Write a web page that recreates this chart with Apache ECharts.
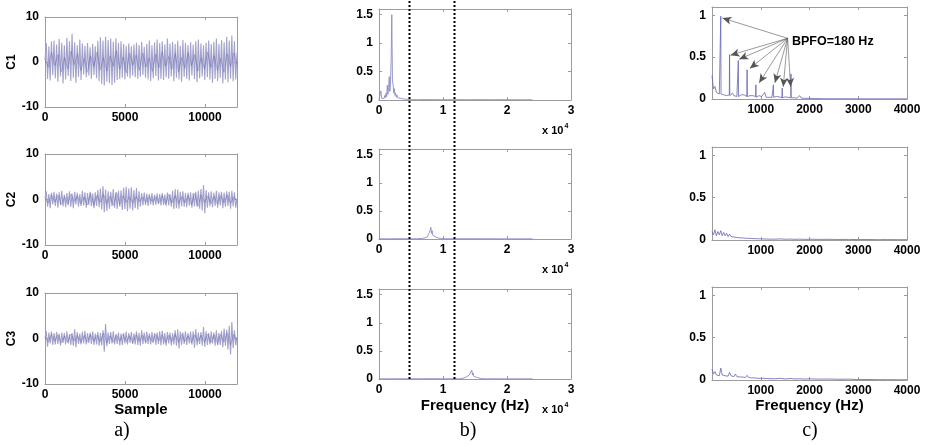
<!DOCTYPE html>
<html><head><meta charset="utf-8">
<script src="https://cdn.jsdelivr.net/npm/echarts/dist/echarts.min.js"></script>
<style>html,body{margin:0;padding:0;background:#fff}#c{width:927px;height:447px}</style>
</head><body><div id="c"></div>
<script>
// ---------- DATA ----------
const sampleMax = 12000;
const sigC1 = [0.5, 4.2, -3.8, 3.5, -4.1, 4.6, -2.9, 4.8, -3.6, 3.9,
 -4.4, 5.1, -3.2, 4.3, -4.8, 3.7, -3.9, 5.4, -3.1, 4.6,
 -4.2, 6.3, -3.5, 4.4, -4.6, 3.8, -3.3, 5.0, -4.0, 4.1,
 -2.8, 3.6, -3.4, 4.2, -3.0, 3.3, -3.7, 4.0, -2.9, 3.5,
 -3.6, 4.7, -4.3, 5.5, -4.9, 4.8, -5.2, 5.6, -4.4, 4.9,
 -4.7, 5.2, -5.1, 4.5, -4.6, 5.3, -4.0, 4.2, -3.8, 4.6,
 -3.5, 4.0, -3.9, 3.6, -3.2, 4.1, -3.6, 3.5, -3.0, 3.9,
 -3.4, 4.3, -3.7, 3.8, -3.3, 4.5, -2.9, 3.4, -3.5, 4.0,
 -3.9, 4.8, -4.2, 3.7, -3.6, 4.4, -3.1, 5.0, -4.1, 4.2,
 -3.8, 4.6, -4.0, 3.9, -3.4, 5.2, -3.7, 4.1, -3.2, 4.5,
 -4.3, 4.0, -3.5, 4.7, -3.9, 3.6, -4.4, 4.9, -3.3, 4.2,
 -3.7, 3.8, -4.1, 4.4, -3.0, 3.9, -3.8, 4.6, -4.5, 5.0,
 -3.6, 4.1, -3.2, 3.7, -4.0, 4.3, -3.4, 4.8, -3.9, 4.0,
 -4.6, 4.5, -3.8, 5.2, -4.2, 4.0, -3.5, 4.9, -4.8, 4.4,
 -3.9, 5.6, -4.5, 4.8, -3.7, 5.9, -4.3, 4.6, -3.9, 2.1];
const sigC2 = [0.3, 1.8, -1.6, 1.2, -1.9, 1.5, -1.1, 1.7, -1.4, 1.3,
 -1.8, 1.6, -1.2, 1.9, -1.5, 1.1, -1.7, 1.4, -1.3, 1.8,
 -1.6, 1.3, -1.9, 1.7, -1.1, 1.5, -1.6, 1.2, -1.4, 1.9,
 -1.3, 1.6, -1.8, 1.4, -1.2, 1.7, -1.5, 1.3, -1.9, 1.6,
 -1.4, 2.1, -1.7, 2.4, -2.2, 2.9, -2.8, 2.2, -2.5, 1.8,
 -2.0, 1.7, -1.5, 2.3, -1.8, 1.6, -2.1, 1.9, -1.6, 2.0,
 -2.3, 2.6, -2.1, 2.8, -2.6, 2.4, -2.0, 2.7, -2.4, 2.1,
 -1.9, 2.5, -2.2, 1.8, -1.6, 1.4, -1.3, 1.5, -1.2, 1.3,
 -1.4, 1.2, -1.1, 1.4, -1.3, 1.1, -1.2, 1.3, -1.0, 1.2,
 -1.3, 1.4, -1.2, 1.1, -1.4, 1.5, -1.3, 1.2, -1.6, 1.9,
 -2.1, 2.3, -1.9, 2.2, -2.0, 1.7, -1.5, 1.8, -1.6, 1.4,
 -1.7, 1.5, -1.3, 1.6, -1.8, 1.4, -1.5, 1.7, -1.6, 1.9,
 -2.0, 2.3, -2.4, 3.2, -3.0, 2.1, -1.8, 1.6, -1.5, 1.8,
 -1.7, 1.5, -1.4, 1.9, -1.8, 1.6, -1.3, 1.7, -1.9, 1.5,
 -1.6, 1.8, -1.4, 1.7, -2.0, 1.9, -1.5, 1.6, -1.8, 0.2];
const sigC3 = [0.2, 1.6, -1.8, 1.3, -1.1, 1.5, -1.4, 1.2, -1.3, 1.4,
 -1.2, 1.1, -1.5, 1.3, -1.0, 1.2, -1.3, 1.6, -1.1, 1.0,
 -1.4, 1.2, -1.6, 2.0, -1.9, 1.4, -1.2, 1.1, -1.3, 1.5,
 -1.1, 1.7, -1.3, 1.2, -1.0, 1.3, -1.2, 1.5, -1.4, 1.1,
 -1.3, 1.4, -1.6, 1.2, -1.5, 1.8, -2.9, 3.2, -1.7, 1.3,
 -1.2, 1.4, -1.1, 1.6, -1.3, 1.0, -1.2, 1.3, -1.5, 1.1,
 -1.4, 1.2, -1.1, 1.5, -1.3, 1.2, -1.0, 1.4, -1.2, 1.1,
 -1.3, 1.6, -1.4, 1.2, -1.6, 1.8, -1.2, 1.3, -1.1, 1.5,
 -1.2, 1.1, -1.3, 1.4, -1.0, 1.2, -1.4, 1.3, -1.2, 1.6,
 -1.5, 1.7, -1.3, 1.2, -1.6, 1.4, -1.1, 1.3, -1.5, 1.2,
 -1.3, 1.8, -1.6, 2.0, -2.2, 1.5, -1.4, 1.3, -1.2, 1.6,
 -1.4, 1.2, -1.1, 1.5, -1.3, 1.6, -2.0, 2.1, -1.5, 1.3,
 -1.2, 1.4, -1.6, 2.5, -1.8, 1.6, -1.4, 1.2, -1.3, 1.5,
 -1.1, 1.3, -1.6, 1.8, -1.5, 1.2, -1.4, 1.7, -1.9, 2.2,
 -1.6, 1.9, -2.4, 2.8, -3.5, 3.6, -2.1, 1.8, -1.5, 0.3];
// darker inner trace of the raw signals
const innerC1 = [0.5,-1.2,2.1,-0.8,1.6,-2.2,1.0,-1.5,2.4,-0.6, 1.8,-1.9,0.7,-2.3,1.4,-1.0,2.2,-1.7,0.9,-2.0,
 1.3,-0.9,2.5,-1.6,1.1,-2.4,1.9,-0.7,1.5,-1.8, 2.0,-1.1,0.8,-2.1,1.7,-1.3,2.3,-0.9,1.2,-1.6,
 1.9,-2.2,1.0,-1.4,2.1,-0.8,1.6,-2.0,0.9,-1.5, 2.2,-1.2,1.4,-1.9,0.8,-2.3,1.8,-1.0,2.0,-0.5];
const innerC2 = [0.2,-0.8,1.0,-0.5,0.9,-1.1,0.6,-0.9,1.2,-0.4, 0.8,-1.0,0.5,-1.2,1.4,-1.3,0.9,-0.6,1.1,-0.8,
 0.7,-1.3,1.5,-1.1,0.8,-0.6,0.5,-0.7,0.6,-0.4, 0.5,-0.6,0.7,-0.5,0.6,-0.8,0.9,-1.0,1.1,-0.7,
 0.8,-0.9,0.6,-0.7,0.9,-1.2,1.3,-1.5,1.0,-0.6, 0.8,-0.9,0.7,-1.0,0.9,-0.7,1.0,-0.8,0.6,-0.3];
const innerC3 = [0.3,-0.7,0.9,-0.6,0.8,-0.9,0.5,-0.8,1.0,-0.5, 0.7,-0.9,0.6,-0.8,0.9,-0.6,0.8,-0.7,1.2,-1.0,
 0.6,-0.8,0.7,-0.5,0.9,-0.7,0.6,-0.9,0.8,-0.6, 0.7,-0.8,0.6,-0.7,0.9,-0.5,0.8,-0.9,0.7,-0.6,
 0.9,-0.8,1.0,-0.7,0.6,-0.9,0.8,-0.6,0.7,-0.8, 1.0,-0.9,0.8,-1.1,0.9,-0.7,1.2,-1.4,0.9,-0.4];

// b) spectra (Hz, amplitude)
const fftFreqC1 = [0,100,200,300,400,500,600,700,800,900,1000,1100,1200,1300,1400,1500,1600,1700,1800,1900,
 2000,2100,2200,2300,2400,2500,2600,2700,2800,2900,3000,3100,3200,3300,3400,3500,3600,3700,3800,3900,
 4000,4100,4200,4300,4400,4500,4600,4700,4800,4900,5000,6000,8000,10000,12000,14000,16000,18000,20000,22000,24000];
const fftAmpC1 = [0.01,0.03,0.02,0.16,0.03,0.05,0.02,0.06,0.03,0.08,
 0.04,0.12,0.06,0.26,0.1,0.22,0.41,0.15,0.3,0.73,
 1.5,0.35,0.27,0.12,0.2,0.08,0.12,0.05,0.09,0.04,
 0.07,0.03,0.06,0.03,0.05,0.02,0.04,0.02,0.03,0.02,
 0.025,0.015,0.02,0.01,0.015,0.01,0.012,0.008,0.01,0.006,0.008,
 0.006,0.007,0.005,0.006,0.005,0.006,0.005,0.006,0.004,0.004];
const fftFreqC2 = [0,1000,2000,3000,4000,5000,
 6000,6100,6200,6300,6400,6500,6600,6700,6800,6900,7000,7100,7200,7300,7400,7500,7600,7700,7800,7900,
 8000,8100,8200,8300,8400,8500,8600,8700,8800,8900,9000,9100,9200,9300,9400,9500,9600,9700,9800,9900,
 10000,10100,10200,10300,10400,10500,10600,11000,12000,14000,16000,18000,20000,22000,24000];
const fftAmpC2 = [0.003,0.004,0.004,0.005,0.004,0.004,
 0.005,0.008,0.006,0.01,0.008,0.015,0.01,0.02,0.012,0.025,
 0.015,0.03,0.02,0.04,0.03,0.05,0.04,0.08,0.06,0.12,
 0.09,0.21,0.1,0.15,0.07,0.1,0.05,0.07,0.04,0.05,
 0.03,0.04,0.02,0.03,0.015,0.02,0.012,0.015,0.01,0.012,
 0.008,0.01,0.006,0.008,0.005,0.006,0.004,
 0.005,0.004,0.005,0.004,0.004,0.003,0.003,0.003];
const fftFreqC3 = [0,2000,4000,6000,8000,10000,11000,12000,
 12400,12500,12600,12700,12800,12900,13000,13100,13200,13300,13400,13500,13600,13700,13800,13900,
 14000,14100,14200,14300,14400,14500,14600,14700,14800,14900,15000,15100,15200,15300,15400,15500,
 15600,15700,15800,15900,16000,16100,16200,16300,16400,16500,16600,17000,18000,20000,22000,24000];
const fftAmpC3 = [0.003,0.004,0.004,0.004,0.005,0.004,0.004,0.004,
 0.004,0.006,0.005,0.008,0.006,0.01,0.008,0.015,0.01,0.02,
 0.015,0.03,0.02,0.04,0.03,0.06,0.04,0.07,0.05,0.1,
 0.08,0.16,0.07,0.11,0.05,0.08,0.04,0.06,0.03,0.05,
 0.025,0.035,0.02,0.025,0.012,0.015,0.008,0.01,0.006,0.007,
 0.004,0.005,0.003,
 0.004,0.004,0.003,0.003,0.003];

// c) envelope spectra
const envFreqC1 = [0,30,60,90,120,150,175,180,185,210,240,270,300,330,355,360,365,390,420,450,480,510,
 535,540,545,570,600,630,660,690,715,720,725,750,780,810,840,870,895,900,905,930,960,990,1020,1050,
 1080,1110,1140,1170,1200,1230,1255,1260,1265,1290,1320,1350,1380,1410,1435,1440,1445,1470,1500,1530,
 1560,1590,1615,1620,1625,1650,1680,1710,1740,1770,1800,1830,1860,1890,1920,1950,1980,2010,2040,2070,
 2100,2130,2160,2190,2220,2250,2280,2310,2340,2370,2400,2600,2800,3000,3200,3400,3600,3800,4000];
const envAmpC1 = [0.28,0.12,0.15,0.08,0.1,0.06,0.07,0.99,0.06,0.08,0.05,0.07,0.04,0.06,0.05,0.53,0.04,0.05,0.07,0.04,0.06,0.03,
 0.04,0.46,0.03,0.04,0.05,0.03,0.05,0.03,0.03,0.35,0.03,0.03,0.04,0.02,0.04,0.03,0.03,0.17,0.02,0.03,0.04,0.02,0.03,0.02,
 0.08,0.02,0.03,0.02,0.03,0.02,0.02,0.17,0.02,0.02,0.03,0.02,0.025,0.015,0.015,0.13,0.015,0.02,0.025,0.015,
 0.02,0.015,0.015,0.3,0.015,0.02,0.015,0.02,0.01,0.015,0.04,0.01,0.015,0.008,0.012,0.008,0.02,0.008,0.01,0.006,
 0.01,0.005,0.008,0.005,0.007,0.004,0.006,0.004,0.005,0.003,0.004,0.003,0.003,0.002,0.002,0.002,0.002,0.002,0.002];
const envFreqC23 = [0,30,60,90,120,150,180,210,240,270,300,330,360,390,420,450,480,510,540,570,
 600,630,660,690,720,750,780,810,840,870,900,930,960,990,1020,1050,1080,1110,1140,1170,1200,
 1300,1400,1500,1600,1700,1800,1900,2000,2200,2400,2600,2800,3000,3200,3400,3600,3800,4000];
const envAmpC2 = [0.1,0.06,0.12,0.05,0.1,0.06,0.11,0.05,0.09,0.05,
 0.08,0.04,0.07,0.04,0.06,0.035,0.05,0.03,0.045,0.025,
 0.04,0.025,0.035,0.02,0.03,0.02,0.028,0.018,0.025,0.016,
 0.022,0.015,0.02,0.014,0.018,0.012,0.017,0.012,0.015,0.01,0.014,
 0.01,0.013,0.009,0.011,0.008,0.01,0.007,0.009,0.007,0.008,0.006,0.007,0.005,0.006,0.004,0.005,0.004,0.004];
const envAmpC3 = [0.13,0.07,0.1,0.06,0.08,0.05,0.14,0.06,0.07,0.05,
 0.06,0.045,0.09,0.05,0.06,0.04,0.07,0.04,0.06,0.035,
 0.055,0.035,0.05,0.03,0.055,0.03,0.045,0.025,0.04,0.025,
 0.035,0.02,0.03,0.02,0.03,0.02,0.03,0.018,0.025,0.016,0.022,
 0.015,0.02,0.012,0.018,0.012,0.015,0.01,0.014,0.01,0.012,0.008,0.01,0.006,0.006,0.004,0.004,0.003,0.003];

// annotation: BPFO arrows (data coords of panel c1)
const bpfoFrom = [1551, 0.726];
const bpfoTargets = [[214,0.967],[379,0.524],[556,0.475],[776,0.366],[967,0.193],[1290,0.193],[1461,0.145],[1613,0.145]];
const bandEdges = [4700, 11700];
const rowNames = ['C1','C2','C3'];

// ---------- CHART ----------
const FONT = '"Liberation Sans", Arial, Helvetica, sans-serif';
const boxColor = '#9c9c9c';
const lineColor = '#7474b8';
const grids = [
  {left:45, top:17, width:192, height:90}, {left:45, top:154, width:192, height:91}, {left:45, top:293, width:192, height:91},
  {left:379, top:9, width:192, height:91}, {left:379, top:149, width:192, height:90}, {left:379, top:289, width:192, height:90},
  {left:712, top:7, width:195, height:92}, {left:712, top:147, width:195, height:93}, {left:712, top:287, width:195, height:93}
];
const labelStyle = {fontFamily:FONT, fontWeight:'bold', fontSize:12, color:'#000'};
const nameStyle = {fontFamily:FONT, fontWeight:'bold', fontSize:15, color:'#000'};
function baseAxis(gi, min, max, interval){
  return {type:'value', gridIndex:gi, min:min, max:max, interval:interval, splitLine:{show:false},
    axisLine:{show:true, onZero:false, lineStyle:{color:boxColor, width:1}},
    axisTick:{show:true, inside:true, length:3, lineStyle:{color:boxColor}}};
}
const xAxes = [], yAxes = [];
function addAxes(gi, x, y){
  const xb = Object.assign(baseAxis(gi, x.min, x.max, x.interval), {position:'bottom',
    axisLabel:Object.assign({show:true, margin:5, formatter:x.fmt || (v=>String(v)), showMinLabel:x.hideMin?false:null, showMaxLabel:x.hideMax?false:null}, labelStyle)});
  if (x.name) Object.assign(xb, {name:x.name, nameLocation:'middle', nameGap:x.nameGap, nameTextStyle:nameStyle});
  xAxes.push(xb);
  xAxes.push(Object.assign(baseAxis(gi, x.min, x.max, x.interval), {position:'top', axisLabel:{show:false}}));
  const yl = Object.assign(baseAxis(gi, y.min, y.max, y.interval), {position:'left',
    axisLabel:Object.assign({show:true, margin:6, formatter:v=>String(v), showMaxLabel:y.hideMax?false:null}, labelStyle)});
  if (y.name) Object.assign(yl, {name:y.name, nameLocation:'middle', nameGap:y.nameGap, nameRotate:90, nameTextStyle:Object.assign({}, labelStyle)});
  yAxes.push(yl);
  yAxes.push(Object.assign(baseAxis(gi, y.min, y.max, y.interval), {position:'right', axisLabel:{show:false}}));
}
const series = [];
function zipIdx(arr){ return arr.map((v,i)=>[i*sampleMax/(arr.length-1), v]); }
function zip(f, a){ return f.map((v,i)=>[v, a[i]]); }
function addSeries(gi, data, extra){
  series.push(Object.assign({type:'line', xAxisIndex:2*gi, yAxisIndex:2*gi, data:data, showSymbol:false, symbol:'none',
    lineStyle:{color:lineColor, width:0.9}, itemStyle:{color:lineColor}, silent:true, animation:false}, extra||{}));
}
const sigs = [sigC1, sigC2, sigC3];
const inners = [innerC1, innerC2, innerC3];
const ffts = [[fftFreqC1, fftAmpC1],[fftFreqC2, fftAmpC2],[fftFreqC3, fftAmpC3]];
const envs = [[envFreqC1, envAmpC1],[envFreqC23, envAmpC2],[envFreqC23, envAmpC3]];
for (let r=0;r<3;r++){
  addAxes(r, {min:0, max:sampleMax, interval:5000, hideMax:true, name: r===2?'Sample':null, nameGap:15},
             {min:-10, max:10, interval:10, name:rowNames[r], nameGap:25});
  addSeries(r, zipIdx(sigs[r]), {lineStyle:{color:'#a2a2ca', width:1.1}});
  addSeries(r, zipIdx(inners[r]), {lineStyle:{color:'#3c3ca6', width:0.5, opacity:0.55}});
}
for (let r=0;r<3;r++){
  addAxes(3+r, {min:0, max:30000, interval:10000, fmt:v=>String(v/10000), name: r===2?'Frequency (Hz)':null, nameGap:19},
               {min:0, max:1.6, interval:0.5, hideMax:true});
  addSeries(3+r, zip(ffts[r][0], ffts[r][1]), {lineStyle:{color:'#8c8cc4', width:0.9}});
}
for (let r=0;r<3;r++){
  addAxes(6+r, {min:0, max:4000, interval:1000, hideMin:true, name: r===2?'Frequency (Hz)':null, nameGap:18},
               {min:0, max:1.1, interval:0.5, hideMax:true});
  const extra = {lineStyle:{color:'#6464b4', width:0.8}};
  if (r===0){
    extra.markLine = {silent:true, animation:false, symbol:['none','arrow'], symbolSize:[6,9],
      label:{show:false}, lineStyle:{color:'#555', width:0.6, type:'solid'},
      data: bpfoTargets.map(t=>[{coord:bpfoFrom.slice()},{coord:t}])};
  }
  addSeries(6+r, zip(envs[r][0], envs[r][1]), extra);
}

const chart = echarts.init(document.getElementById('c'), null, {renderer:'canvas'});
chart.setOption({animation:false, grid:grids, xAxis:xAxes, yAxis:yAxes, series:series});

// overlay graphics positioned from the axes
const g = [];
const yTop = chart.convertToPixel({yAxisIndex:6}, 1.6) - 8;
const yBot = chart.convertToPixel({yAxisIndex:10}, 0);
bandEdges.forEach(f=>{
  const x = Math.round(chart.convertToPixel({xAxisIndex:6}, f)) + 0.5;
  g.push({type:'line', silent:true, shape:{x1:x, y1:yTop, x2:x, y2:yBot}, style:{stroke:'#000', lineWidth:2, lineDash:[2,2]}, z:10});
});
for (let r=0;r<3;r++){
  const gr = grids[3+r];
  g.push({type:'text', left:gr.left+gr.width-29, top:gr.top+gr.height+23, silent:true,
    style:{text:'{a|x 10}{b|4}', rich:{a:{fontFamily:FONT, fontWeight:'bold', fontSize:11, fill:'#000', verticalAlign:'bottom'},
      b:{fontFamily:FONT, fontWeight:'bold', fontSize:7, fill:'#000', verticalAlign:'top', padding:[0,0,6,1]}}}});
}
g.push({type:'text', left:792, top:35, silent:true, style:{text:'BPFO=180 Hz', fontFamily:FONT, fontWeight:'bold', fontSize:12.5, fill:'#000'}});
[['a)',122],['b)',468],['c)',810]].forEach(p=>{
  g.push({type:'text', x:p[1], y:431, silent:true, style:{text:p[0], fontFamily:'"Liberation Serif", "Times New Roman", serif', fontSize:20, fill:'#000', textAlign:'center', textVerticalAlign:'middle'}});
});
chart.setOption({graphic:g});
</script></body></html>
